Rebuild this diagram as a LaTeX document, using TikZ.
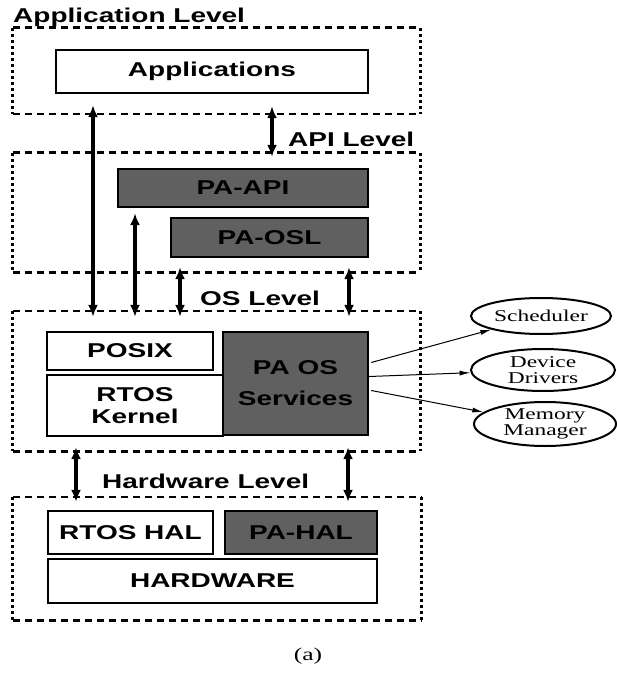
\documentclass[tikz,border=0pt]{standalone}
\usepackage{fontspec}
\newfontfamily\hvb{Liberation Sans}[FakeStretch=1.4]
\newfontfamily\tms{Liberation Serif}[FakeStretch=1.42]
\usetikzlibrary{arrows.meta,shapes.geometric}
\definecolor{paGray}{RGB}{96,96,96}
\tikzset{
  lbl/.style={font=\hvb\bfseries\fontsize{20}{22}\selectfont, inner sep=0pt},
  blk/.style={draw=black, line width=2.4pt, fill=white, inner sep=0pt, align=center,
              font=\hvb\bfseries\fontsize{20}{22}\selectfont},
  pablk/.style={blk, fill=paGray},
  layer/.style={inner sep=0pt},
  hdash/.style={line width=2.6pt, dash pattern=on 7pt off 5pt},
  vdash/.style={line width=2.8pt, dash pattern=on 3pt off 3pt},
  link/.style={line width=3.2pt, {Latex[length=12pt,width=10pt]}-{Latex[length=12pt,width=10pt]}},
  svc/.style={draw, ellipse, line width=2pt, inner sep=0pt, align=center,
              font=\tms\fontsize{16.5}{16.5}\selectfont},
  fan/.style={line width=1pt, -{Latex[length=11pt,width=5pt]}},
}
\begin{document}
\begin{tikzpicture}[x=1pt,y=-1pt]
\useasboundingbox[fill=white] (0,0) rectangle (616,684);

% layer containers
\node[layer, minimum width=407pt, minimum height=86pt]  (applevel) at (216.5,71)   {};
\node[layer, minimum width=407pt, minimum height=119pt] (apilevel) at (216.5,212.5) {};
\node[layer, minimum width=407pt, minimum height=140pt] (oslevel)  at (216.5,381)  {};
\node[layer, minimum width=408pt, minimum height=123pt] (hwlevel)  at (217,558.5)  {};
\foreach \L in {applevel,apilevel,oslevel,hwlevel}{
  \draw[hdash] (\L.north west) -- (\L.north east) (\L.south west) -- (\L.south east);
  \draw[vdash] (\L.north west) -- (\L.south west) (\L.north east) -- (\L.south east);
}

% layer titles
\node[lbl, anchor=base west] (tapp) at (13,23)   {Application Level};
\node[lbl, anchor=base west] (tapi) at (288,147) {API Level};
\node[lbl, anchor=base west] (tos)  at (200,305) {OS Level};
\node[lbl, anchor=base west] (thw)  at (102,488) {Hardware Level};

% blocks
\node[blk,   minimum width=312pt, minimum height=43pt]  (app)     at (212,71.5)  {Applications};
\node[pablk, minimum width=250pt, minimum height=38pt]  (papi)    at (243,188)   {PA-API};
\node[pablk, minimum width=197pt, minimum height=39pt]  (paosl)   at (269.5,237.5) {PA-OSL};
\node[blk,   minimum width=166pt, minimum height=38pt]  (posix)   at (130,351)   {POSIX};
\node[blk,   minimum width=176pt, minimum height=61pt]  (rtosk)   at (135,405.5) {RTOS\\Kernel};
\node[pablk, minimum width=145pt, minimum height=103pt] (paos)    at (295.5,383.5) {PA OS\\[9pt]Services};
\node[blk,   minimum width=165pt, minimum height=43pt]  (rtoshal) at (130.5,532.5) {RTOS HAL};
\node[pablk, minimum width=152pt, minimum height=43pt]  (pahal)   at (301,532.5) {PA-HAL};
\node[blk,   minimum width=329pt, minimum height=44pt]  (hw)      at (212.5,581) {HARDWARE};

% OS services
\node[svc, minimum width=140pt, minimum height=36pt] (sched) at (541,316) {Scheduler};
\node[svc, minimum width=144pt, minimum height=42pt] (drv)   at (543,370) {Device\\Drivers};
\node[svc, minimum width=142pt, minimum height=44pt] (mem)   at (545,424) {Memory\\Manager};

% columns of the vertical links
\coordinate (c1) at (93,0);
\coordinate (c2) at (272,0);
\coordinate (c3) at (135,0);
\coordinate (c4) at (180,0);
\coordinate (c5) at (349,0);
\coordinate (c6) at (76,0);
\coordinate (c7) at (348,0);

\draw[link, shorten <=11pt, shorten >=-6pt] (c1 |- app.south) -- (c1 |- oslevel.north);
\draw[link, shorten <=12pt, shorten >=-4pt] (c2 |- app.south) -- (c2 |- apilevel.north);
\draw[link, shorten <=5pt,  shorten >=-6pt] (c3 |- papi.south) -- (c3 |- oslevel.north);
\draw[link, shorten <=-5pt, shorten >=-6pt] (c4 |- apilevel.south) -- (c4 |- oslevel.north);
\draw[link, shorten <=-5pt, shorten >=-6pt] (c5 |- apilevel.south) -- (c5 |- oslevel.north);
\draw[link, shorten <=-4pt, shorten >=-5pt] (c6 |- oslevel.south) -- (c6 |- hwlevel.north);
\draw[link, shorten <=-4pt, shorten >=-5pt] (c7 |- oslevel.south) -- (c7 |- hwlevel.north);

% service fan-out
\draw[fan] ([xshift=2pt,yshift=21pt]paos.east) -- (sched);
\draw[fan] ([yshift=7pt]paos.east) -- (drv);
\draw[fan] ([xshift=2pt,yshift=-7pt]paos.east) -- (mem);

% caption
\node[font=\tms\fontsize{18}{20}\selectfont, inner sep=0pt, anchor=base] (cap) at (308,660) {(a)};
\end{tikzpicture}
\end{document}
